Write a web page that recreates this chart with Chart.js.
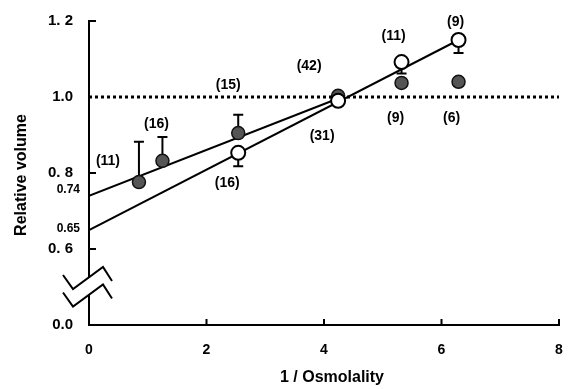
<!DOCTYPE html>
<html>
<head>
<meta charset="utf-8">
<script src="https://cdn.jsdelivr.net/npm/chart.js@4"></script>
<style>
  html, body { margin: 0; padding: 0; background: #fff; }
  #wrap { width: 568px; height: 389px; }
</style>
</head>
<body>
<div id="wrap"><canvas id="myChart" width="568" height="389"></canvas></div>
<script>
// filled circles (upper error bars)
const filledX = [0.85, 1.25, 2.54, 4.24, 5.32, 6.29];
const filledY = [0.776, 0.832, 0.905, 1.003, 1.037, 1.04];
const filledErr = [0.106, 0.063, 0.048, 0, 0, 0];
const filledN = ['(11)', '(16)', '(15)', '(42)', '(9)', '(6)'];

// open circles (lower error bars)
const openX = [2.54, 4.24, 5.32, 6.29];
const openY = [0.853, 0.99, 1.092, 1.15];
const openErr = [0.035, 0, 0.03, 0.034];
const openN = ['(16)', '(31)', '(11)', '(9)'];

// regression lines
const fitFilledX = [0, 4.24];
const fitFilledY = [0.74, 0.996];
const fitOpenX = [0, 6.29];
const fitOpenY = [0.65, 1.15];
const refX = [0, 8];
const refY = [1.0, 1.0];

// y axis is broken: 0.4 on the scale is shown as 0.0
const yTickValues = [0.4, 0.6, 0.8, 1.0, 1.2];
const yTickLabels = ['0.0', '0. 6', '0. 8', '1.0', '1. 2'];
const interceptLabels = ['0.74', '0.65'];
const xTickValues = [0, 2, 4, 6, 8];

// label offsets in px from each point
const filledNOffset = [[-31, -21], [-6, -37], [-10, -48], [-29, -30], [-6, 35], [-7, 36]];
const openNOffset = [[-11, 30], [-16, 35], [-8, -26], [-3, -18]];

const pts = (xs, ys) => xs.map((x, i) => ({ x: x, y: ys[i] }));
const FONT = "'Liberation Sans', Arial, sans-serif";

const extras = {
    id: 'extras',
    beforeDatasetsDraw(chart) {
        const { ctx, scales: { x, y } } = chart;
        ctx.save();
        ctx.strokeStyle = '#000';
        ctx.lineWidth = 2;
        const bar = (xv, y0, y1) => {
            const px = x.getPixelForValue(xv);
            const p0 = y.getPixelForValue(y0);
            const p1 = y.getPixelForValue(y1);
            ctx.beginPath();
            ctx.moveTo(px, p0); ctx.lineTo(px, p1);
            ctx.moveTo(px - 5, p1); ctx.lineTo(px + 5, p1);
            ctx.stroke();
        };
        filledX.forEach((xv, i) => { if (filledErr[i] > 0) bar(xv, filledY[i], filledY[i] + filledErr[i]); });
        openX.forEach((xv, i) => { if (openErr[i] > 0) bar(xv, openY[i], openY[i] - openErr[i]); });
        ctx.restore();
    },
    afterDraw(chart) {
        const { ctx, scales: { x, y } } = chart;
        const ax = x.getPixelForValue(0);
        ctx.save();
        ctx.strokeStyle = '#000';
        ctx.lineWidth = 2;

        // inward ticks
        ctx.beginPath();
        [0.6, 0.8, 1.2].forEach(v => {
            const p = y.getPixelForValue(v);
            ctx.moveTo(ax, p); ctx.lineTo(ax + 7, p);
        });
        const bottom = y.getPixelForValue(0.4);
        [2, 4, 6, 8].forEach(v => {
            const p = x.getPixelForValue(v);
            ctx.moveTo(p, bottom); ctx.lineTo(p, bottom - 6);
        });
        ctx.stroke();

        // axis break
        const pb = y.getPixelForValue(0.5);
        ctx.fillStyle = '#fff';
        ctx.fillRect(ax - 3, pb - 9, 6, 17);
        const zig = (dy) => {
            ctx.beginPath();
            ctx.moveTo(ax - 26, pb - 12 + dy);
            ctx.lineTo(ax - 16, pb + 2 + dy);
            ctx.lineTo(ax + 14, pb - 20 + dy);
            ctx.lineTo(ax + 23, pb - 6 + dy);
            ctx.stroke();
        };
        zig(0);
        zig(17.5);

        // n labels
        ctx.fillStyle = '#000';
        ctx.font = 'bold 14px ' + FONT;
        ctx.textAlign = 'center';
        ctx.textBaseline = 'middle';
        filledX.forEach((xv, i) => {
            ctx.fillText(filledN[i], x.getPixelForValue(xv) + filledNOffset[i][0], y.getPixelForValue(filledY[i]) + filledNOffset[i][1]);
        });
        openX.forEach((xv, i) => {
            ctx.fillText(openN[i], x.getPixelForValue(xv) + openNOffset[i][0], y.getPixelForValue(openY[i]) + openNOffset[i][1]);
        });

        // intercept labels
        ctx.font = 'bold 12px ' + FONT;
        ctx.textAlign = 'right';
        ctx.fillText(interceptLabels[0], 80, y.getPixelForValue(fitFilledY[0]) - 6);
        ctx.fillText(interceptLabels[1], 80, y.getPixelForValue(fitOpenY[0]) - 1);

        // axis titles
        ctx.font = 'bold 16px ' + FONT;
        ctx.textAlign = 'center';
        ctx.fillText('1 / Osmolality', 332, 378);
        ctx.translate(22, 175);
        ctx.rotate(-Math.PI / 2);
        ctx.fillText('Relative volume', 0, 0);
        ctx.restore();
    }
};

const chartCanvas = document.getElementById('myChart');
new Chart(chartCanvas.getContext('2d'), {
    type: 'scatter',
    data: {
        datasets: [
            {
                label: 'open', data: pts(openX, openY), order: 0,
                pointRadius: 7, pointBackgroundColor: '#fff', pointBorderColor: '#000', pointBorderWidth: 2
            },
            {
                label: 'filled', data: pts(filledX, filledY), order: 1,
                pointRadius: 6.5, pointBackgroundColor: '#555', pointBorderColor: '#111', pointBorderWidth: 1.5
            },
            {
                label: 'fit filled', data: pts(fitFilledX, fitFilledY), order: 2, showLine: true,
                borderColor: '#000', borderWidth: 2, pointRadius: 0
            },
            {
                label: 'fit open', data: pts(fitOpenX, fitOpenY), order: 3, showLine: true,
                borderColor: '#000', borderWidth: 2, pointRadius: 0
            },
            {
                label: 'ref', data: pts(refX, refY), order: 4, showLine: true,
                borderColor: '#000', borderWidth: 3, borderDash: [3, 3], pointRadius: 0
            }
        ]
    },
    options: {
        responsive: false,
        animation: false,
        devicePixelRatio: 1,
        layout: { padding: { left: 0, right: 5, top: 21, bottom: 0 } },
        plugins: { legend: { display: false }, tooltip: { enabled: false } },
        scales: {
            x: {
                type: 'linear', min: 0, max: 8,
                afterFit: (s) => { s.height = 64; s.paddingLeft = 0; s.paddingRight = 0; },
                afterBuildTicks: (s) => { s.ticks = xTickValues.map(v => ({ value: v })); },
                grid: { display: false },
                border: { display: true, color: '#000', width: 2 },
                ticks: { padding: 9, color: '#000', font: { family: FONT, size: 14, weight: 'bold' } }
            },
            y: {
                type: 'linear', min: 0.4, max: 1.2,
                afterFit: (s) => { s.width = 89; s.paddingTop = 0; s.paddingBottom = 0; },
                afterBuildTicks: (s) => { s.ticks = yTickValues.map(v => ({ value: v })); },
                grid: { display: false },
                border: { display: true, color: '#000', width: 2 },
                ticks: {
                    padding: 8, color: '#000', font: { family: FONT, size: 15, weight: 'bold' },
                    callback: (v) => {
                        const i = yTickValues.findIndex(t => Math.abs(t - v) < 1e-6);
                        return i >= 0 ? yTickLabels[i] : '';
                    }
                }
            }
        }
    },
    plugins: [extras]
});
</script>
</body>
</html>
